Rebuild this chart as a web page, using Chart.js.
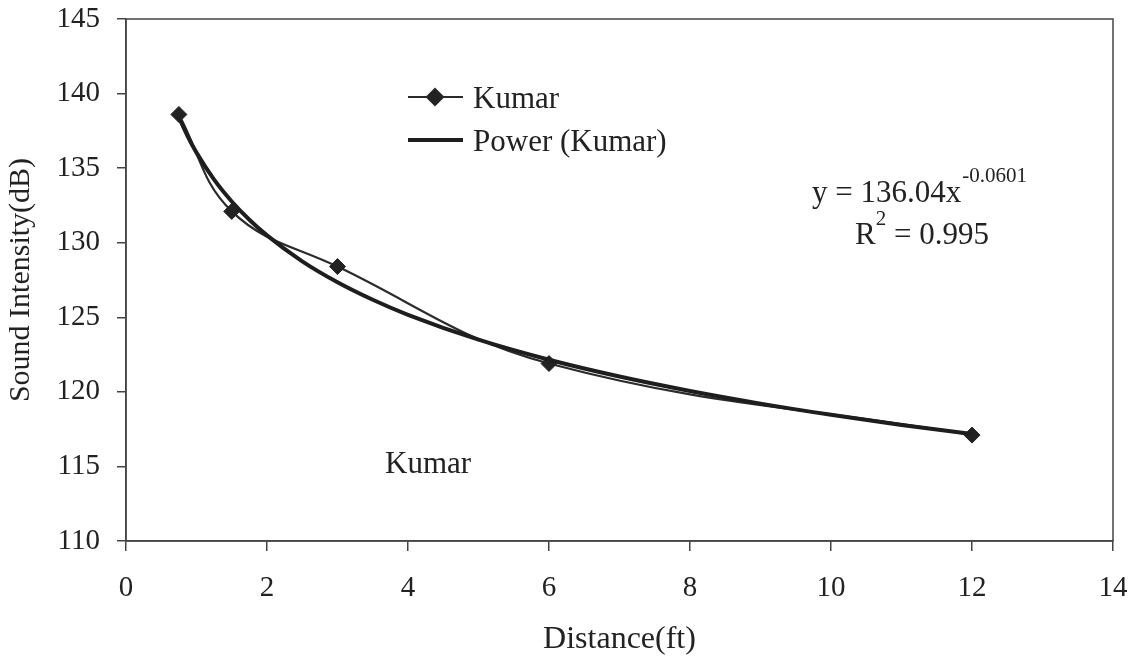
<!DOCTYPE html>
<html>
<head>
<meta charset="utf-8">
<title>Sound Intensity vs Distance</title>
<script src="https://cdn.jsdelivr.net/npm/chart.js@4.4.1/dist/chart.umd.min.js"></script>
<style>
  html, body { margin: 0; padding: 0; background: #fff; }
  #wrap { width: 1145px; height: 659px; }
</style>
</head>
<body>
<div id="wrap"><canvas id="chart"></canvas></div>
<script>
'use strict'

// measured points
const distance = [0.75, 1.5, 3, 6, 12]
const intensity = [138.6, 132.1, 128.4, 121.9, 117.1]

// power fit y = a * x^b
const fitCoef = 136.04
const fitExp = -0.0601
const fitR2 = 0.995
const fitDistance = [0.75, 0.875, 1, 1.25, 1.5, 1.75, 2, 2.5, 3, 3.5, 4, 5, 6, 7, 8, 9, 10, 11, 12]

const xTicks = [0, 2, 4, 6, 8, 10, 12, 14]
const yTicks = [110, 115, 120, 125, 130, 135, 140, 145]

const seriesName = 'Kumar'
const fitName = 'Power (Kumar)'

const serif = "'Liberation Serif', 'Times New Roman', serif"
const ink = '#222'
const axisColor = '#444'

const font = size => `${size}px ${serif}`

// frame, legend and text boxes
const extras = {
    id: 'extras',
    beforeDatasetsDraw(chart) {
        const {ctx, chartArea: a} = chart
        ctx.save()
        ctx.strokeStyle = axisColor
        ctx.lineWidth = 1.5
        ctx.strokeRect(a.left, a.top, a.right - a.left, a.bottom - a.top)
        ctx.restore()
    },
    afterDraw(chart) {
        const {ctx} = chart
        const [series, fit] = chart.data.datasets
        ctx.save()
        ctx.fillStyle = ink
        ctx.textBaseline = 'alphabetic'
        ctx.textAlign = 'left'

        // legend
        ctx.strokeStyle = series.borderColor
        ctx.lineWidth = series.borderWidth
        ctx.beginPath()
        ctx.moveTo(408, 97)
        ctx.lineTo(463, 97)
        ctx.stroke()
        ctx.fillStyle = series.pointBackgroundColor
        Chart.helpers.drawPoint(ctx, {pointStyle: 'rectRot', radius: series.pointRadius, borderWidth: 1}, 435, 97)
        ctx.fill()

        ctx.strokeStyle = fit.borderColor
        ctx.lineWidth = fit.borderWidth
        ctx.beginPath()
        ctx.moveTo(408, 140)
        ctx.lineTo(463, 140)
        ctx.stroke()

        ctx.fillStyle = ink
        ctx.font = font(31)
        ctx.fillText(seriesName, 473, 108)
        ctx.fillText(fitName, 473, 151)

        // fit equation
        const base = `y = ${fitCoef.toFixed(2)}x`
        ctx.font = font(31)
        ctx.fillText(base, 812, 202)
        const baseW = ctx.measureText(base).width
        ctx.font = font(21)
        ctx.fillText(fitExp.toFixed(4), 812 + baseW + 1, 182)

        ctx.font = font(31)
        const rW = ctx.measureText('R').width
        const rest = ` = ${fitR2}`
        const restW = ctx.measureText(rest).width
        ctx.font = font(21)
        const supW = ctx.measureText('2').width
        const startX = 922 - (rW + supW + restW) / 2
        ctx.font = font(31)
        ctx.fillText('R', startX, 244)
        ctx.fillText(rest, startX + rW + supW, 244)
        ctx.font = font(21)
        ctx.fillText('2', startX + rW, 225)

        // series name in the plot
        ctx.font = font(31)
        ctx.fillText(seriesName, 385, 473)
        ctx.restore()
    }
}

const ctx = document.getElementById('chart')

new Chart(ctx, {
    type: 'line',
    data: {
        datasets: [
            {
                label: seriesName,
                data: distance.map((x, i) => ({x: x, y: intensity[i]})),
                borderColor: '#2b2b2b',
                borderWidth: 2.2,
                pointStyle: 'rectRot',
                pointRadius: 8,
                pointBackgroundColor: '#222',
                pointBorderColor: '#222',
                pointBorderWidth: 1,
                tension: 0.4,
                order: 2
            },
            {
                label: fitName,
                data: fitDistance.map(x => ({x: x, y: fitCoef * Math.pow(x, fitExp)})),
                borderColor: '#1e1e1e',
                borderWidth: 4,
                pointRadius: 0,
                cubicInterpolationMode: 'monotone',
                order: 1
            }
        ]
    },
    options: {
        responsive: true,
        maintainAspectRatio: false,
        animation: false,
        layout: {padding: {top: 19, right: 32, bottom: 0, left: 0}},
        plugins: {
            legend: {display: false},
            tooltip: {enabled: false}
        },
        scales: {
            x: {
                type: 'linear',
                min: xTicks[0],
                max: xTicks[xTicks.length - 1],
                afterBuildTicks: s => { s.ticks = xTicks.map(v => ({value: v})) },
                afterFit: s => { s.height = 118; s.paddingLeft = 0; s.paddingRight = 0 },
                grid: {drawOnChartArea: false, tickLength: 10, color: axisColor, lineWidth: 1.5},
                border: {color: axisColor, width: 1.5},
                ticks: {padding: 20, color: ink, font: {family: serif, size: 29}, maxRotation: 0, autoSkip: false},
                title: {display: true, text: 'Distance(ft)', color: ink, font: {family: serif, size: 32}, padding: {top: 0, bottom: 0}}
            },
            y: {
                type: 'linear',
                min: yTicks[0],
                max: yTicks[yTicks.length - 1],
                afterBuildTicks: s => { s.ticks = yTicks.map(v => ({value: v})) },
                afterFit: s => { s.width = 126; s.paddingTop = 0; s.paddingBottom = 0 },
                grid: {drawOnChartArea: false, tickLength: 9, color: axisColor, lineWidth: 1.5},
                border: {color: axisColor, width: 1.5},
                ticks: {padding: 17, color: ink, font: {family: serif, size: 29}, autoSkip: false},
                title: {display: true, text: 'Sound Intensity(dB)', color: ink, font: {family: serif, size: 30}, padding: {top: 3, bottom: 0}}
            }
        }
    },
    plugins: [extras]
})
</script>
</body>
</html>
